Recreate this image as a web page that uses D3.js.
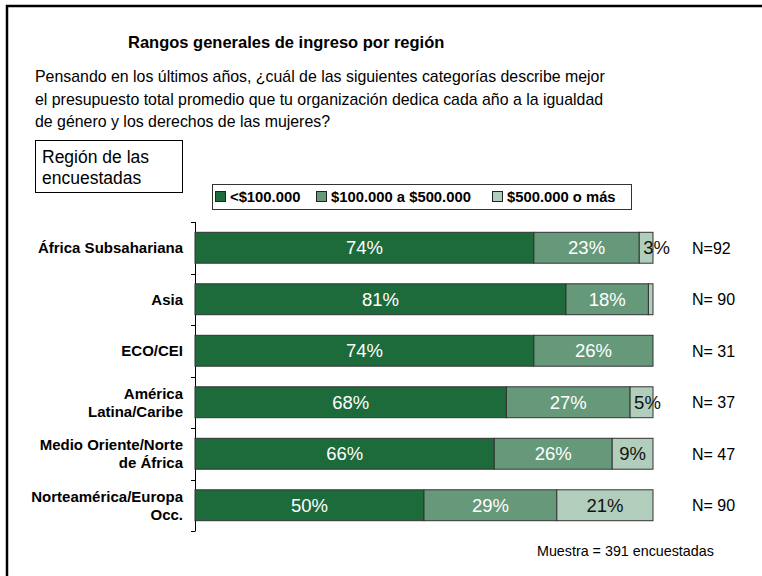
<!DOCTYPE html>
<html>
<head>
<meta charset="utf-8">
<script src="https://cdn.jsdelivr.net/npm/d3@7"></script>
<style>
  body { margin: 0; background: #fff; }
  svg { font-family: Arial, "Liberation Sans", sans-serif; }
</style>
</head>
<body>
<svg class="chart" width="762" height="576"></svg>
<script>
// stacked bar of income ranges by region

var regions = [["África Subsahariana"], ["Asia"], ["ECO/CEI"], ["América", "Latina/Caribe"],
               ["Medio Oriente/Norte", "de África"], ["Norteamérica/Europa", "Occ."]];
var series = ["<$100.000", "$100.000 a $500.000", "$500.000 o más"];
var lowVals = [74, 81, 74, 68, 66, 50];
var midVals = [23, 18, 26, 27, 26, 29];
var highVals = [3, 1, 0, 5, 9, 21];
var nLabels = ["N=92", "N= 90", "N= 31", "N= 37", "N= 47", "N= 90"];
var colors = ["#1d6a3a", "#66997a", "#b1cebd"];

var svg = d3.select(".chart");

// rows for d3.stack
var rows = regions.map(function (r, i) {
  return { name: r.join(" "), lines: r, n: nLabels[i], a: lowVals[i], b: midVals[i], c: highVals[i] };
});
var keys = ["a", "b", "c"];
var stack = d3.stack().keys(keys).offset(d3.stackOffsetExpand);
var layers = stack(rows);

var x = d3.scaleLinear().domain([0, 1]).range([195, 653]);
var y = d3.scaleBand().domain(rows.map(d => d.name)).range([222, 531]).paddingInner(0.4).paddingOuter(0.2);

// frame lines (top + left only)
svg.append("line").attr("x1", 6).attr("x2", 762).attr("y1", 6).attr("y2", 6)
   .attr("stroke", "#000").attr("stroke-width", 2.5);
svg.append("line").attr("x1", 7).attr("x2", 7).attr("y1", 5).attr("y2", 576)
   .attr("stroke", "#000").attr("stroke-width", 2.5);

// title + question
svg.append("text").attr("x", 128).attr("y", 48)
   .attr("font-size", 16.5).attr("font-weight", "bold").text("Rangos generales de ingreso por región");
var question = ["Pensando en los últimos años, ¿cuál de las siguientes categorías describe mejor",
                "el presupuesto total promedio que tu organización dedica cada año a la igualdad",
                "de género y los derechos de las mujeres?"];
svg.append("g").selectAll("text").data(question).enter().append("text")
   .attr("x", 35).attr("y", (d, i) => 82 + i * 22.5)
   .attr("font-size", 15.9).text(d => d);

// region box
svg.append("rect").attr("x", 35.5).attr("y", 140.5).attr("width", 147).attr("height", 52)
   .attr("fill", "#fff").attr("stroke", "#000");
svg.append("g").selectAll("text").data(["Región de las", "encuestadas"]).enter().append("text")
   .attr("x", 42).attr("y", (d, i) => 163 + i * 21)
   .attr("font-size", 17.5).text(d => d);

// legend
var leg = svg.append("g");
leg.append("rect").attr("x", 212.5).attr("y", 184.5).attr("width", 419).attr("height", 25)
   .attr("fill", "#fff").attr("stroke", "#333");
var legX = [215, 316, 492];
series.forEach(function (s, i) {
  leg.append("rect").attr("x", legX[i] + 0.5).attr("y", 191.5).attr("width", 10).attr("height", 10)
     .attr("fill", colors[i]).attr("stroke", "#222");
  leg.append("text").attr("x", legX[i] + 15).attr("y", 202)
     .attr("font-size", 14.8).attr("font-weight", "bold").text(s);
});

// axis (left, ticks between bands)
var axisG = svg.append("g");
axisG.append("line").attr("x1", 195.5).attr("x2", 195.5).attr("y1", 222).attr("y2", 531)
     .attr("stroke", "#000");
axisG.selectAll(".tick").data(d3.range(rows.length + 1)).enter().append("line")
     .attr("x1", 191).attr("x2", 195.5)
     .attr("y1", i => Math.round(222 + i * (309 / rows.length)) + 0.5)
     .attr("y2", i => Math.round(222 + i * (309 / rows.length)) + 0.5)
     .attr("stroke", "#000");

// category labels
var cat = svg.append("g").selectAll("text").data(rows).enter().append("text")
   .attr("text-anchor", "end").attr("font-size", 15).attr("font-weight", "bold")
   .attr("y", d => y(d.name) + y.bandwidth() / 2);
cat.selectAll("tspan").data(d => d.lines.map(function (l, j) { return { l: l, j: j, k: d.lines.length }; }))
   .enter().append("tspan")
   .attr("x", 183)
   .attr("dy", function (t) {
     if (t.j > 0) return 18;
     return t.k == 1 ? 5.5 : -3.5;
   })
   .text(t => t.l);

// bars
var barG = svg.append("g");
layers.forEach(function (layer, li) {
  barG.append("g").selectAll("rect").data(layer).enter().append("rect")
      .attr("x", d => x(d[0]))
      .attr("y", d => y(d.data.name))
      .attr("width", d => Math.max(0, x(d[1]) - x(d[0])))
      .attr("height", y.bandwidth())
      .attr("fill", colors[li])
      .attr("stroke", "#333")
      .attr("stroke-width", 1)
      .attr("display", d => d.data[keys[li]] > 0 ? null : "none");
});

// value labels
layers.forEach(function (layer, li) {
  barG.append("g").selectAll("text").data(layer.filter(d => d.data[keys[li]] >= 3)).enter().append("text")
      .attr("font-size", 18.5)
      .attr("fill", li == 2 ? "#111" : "#fff")
      .attr("text-anchor", function (d) { return x(d[1]) - x(d[0]) < 30 ? "start" : "middle"; })
      .attr("x", function (d) {
        var w = x(d[1]) - x(d[0]);
        return w < 30 ? x(d[0]) + 4 : (x(d[0]) + x(d[1])) / 2;
      })
      .attr("y", d => y(d.data.name) + y.bandwidth() / 2 + 6.5)
      .text(d => d.data[keys[li]] + "%");
});

// N labels
svg.append("g").selectAll("text").data(rows).enter().append("text")
   .attr("x", 692).attr("y", d => y(d.name) + y.bandwidth() / 2 + 6)
   .attr("font-size", 16).text(d => d.n);

// footnote
svg.append("text").attr("x", 537).attr("y", 556).attr("font-size", 14.3)
   .text("Muestra = 391 encuestadas");
</script>
</body>
</html>
